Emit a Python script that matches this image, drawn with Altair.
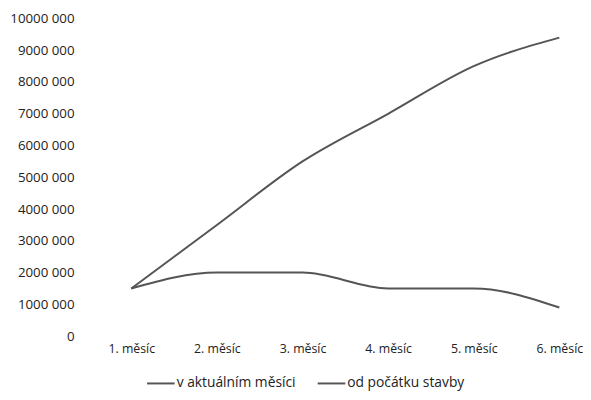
import altair as alt
import pandas as pd

months = ["1. měsíc", "2. měsíc", "3. měsíc", "4. měsíc", "5. měsíc", "6. měsíc"]
v_aktualnim = [1500000, 2000000, 2000000, 1500000, 1500000, 900000]
od_pocatku = [1500000, 3500000, 5500000, 7000000, 8500000, 9400000]
series_names = ["v aktuálním měsíci", "od počátku stavby"]

rows = []
for i, m in enumerate(months):
    rows.append({"mesic": m, "hodnota": v_aktualnim[i], "rada": series_names[0]})
    rows.append({"mesic": m, "hodnota": od_pocatku[i], "rada": series_names[1]})
df = pd.DataFrame(rows)

FONT = "Open Sans"

chart = alt.Chart(df).mark_line(interpolate="monotone", strokeWidth=2).encode(
    x=alt.X("mesic:N", sort=months,
            scale=alt.Scale(type="point", padding=0),
            axis=alt.Axis(title=None, labelAngle=0, domain=False, ticks=False,
                          labelPadding=7, labelFontSize=12.5, labelColor="#222",
                          labelFont=FONT, grid=False)),
    y=alt.Y("hodnota:Q", scale=alt.Scale(domain=[0, 10000000], nice=False),
            axis=alt.Axis(title=None, values=list(range(0, 10000001, 1000000)),
                          labelExpr="datum.value >= 1000000 ? floor(datum.value/1000000)*1000 + ' 000' : datum.value",
                          domain=False, ticks=False, grid=False, labelPadding=58,
                          labelFontSize=13.5, labelColor="#222", labelFont=FONT)),
    color=alt.Color("rada:N", sort=series_names,
                    scale=alt.Scale(domain=series_names, range=["#555555", "#555555"]),
                    legend=alt.Legend(title=None, orient="none", legendX=15, legendY=355,
                                      direction="horizontal", symbolType="stroke",
                                      symbolSize=784, symbolStrokeWidth=2,
                                      labelFontSize=14, labelFont=FONT, labelColor="#222",
                                      columnPadding=18, labelOffset=1)),
).properties(
    width=434, height=322,
    background="white",
    autosize=alt.AutoSizeParams(type="none"),
    padding={"left": 125, "top": 8, "right": 24, "bottom": 54},
).configure_view(strokeWidth=0, stroke=None)

chart.save("out.html", embed_options={"renderer": "svg", "actions": False})
